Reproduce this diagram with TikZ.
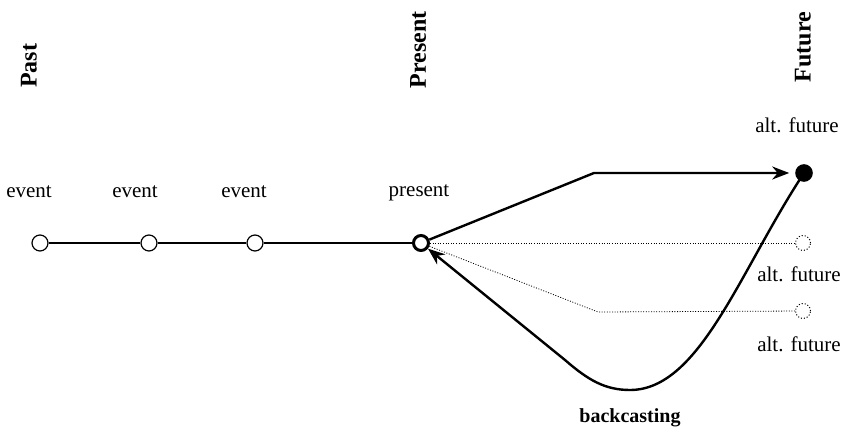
\documentclass[tikz,border=0pt]{standalone}
\usepackage{fontspec}
\setmainfont{Liberation Serif}
\usetikzlibrary{arrows.meta}

\begin{document}
\begin{tikzpicture}[x=0.5pt,y=-0.5pt,
    evt/.style={circle,draw,line width=0.6pt,fill=white,inner sep=0pt,minimum size=8pt},
    pres/.style={circle,draw,line width=1.5pt,fill=white,inner sep=0pt,minimum size=7.5pt},
    fut/.style={circle,draw,line width=0.8pt,fill=black,inner sep=0pt,minimum size=8pt},
    altfut/.style={circle,draw,densely dotted,line width=0.5pt,inner sep=0pt,minimum size=7.5pt},
    lbl/.style={font=\fontsize{10.5}{12}\selectfont},
    era/.style={rotate=90,font=\fontsize{12}{14}\selectfont\bfseries},
    faint/.style={line width=0.4pt,dash pattern=on 0.5pt off 0.8pt},
    bold/.style={line width=1.2pt}]
      \useasboundingbox (0,0) rectangle (844,432);
      \node[era] (past) at (29,66) {Past};
      \node[era] (presenttitle) at (418,50) {Present};
      \node[era] (future) at (803,47) {Future};
      \node[evt] (e1) at (40,243) {};
      \node[evt] (e2) at (149,243) {};
      \node[evt] (e3) at (255,243) {};
      \node[pres] (now) at (421,243) {};
      \node[fut] (f1) at (804,173) {};
      \node[altfut] (f2) at (803,243) {};
      \node[altfut] (f3) at (803,311) {};
      \node[lbl] (l1) at (29,192) {event};
      \node[lbl] (l2) at (135,192) {event};
      \node[lbl] (l3) at (244,192) {event};
      \node[lbl] (lnow) at (419,193) {present};
      \node[lbl] (lf1) at (797,125) {alt. future};
      \node[lbl] (lf2) at (799,274) {alt. future};
      \node[lbl] (lf3) at (799,344) {alt. future};
      \node[lbl,font=\fontsize{10}{12}\selectfont\bfseries] (back) at (630,418) {backcasting};
      \coordinate (k1) at (594,173);
      \coordinate (k2) at (598,312);
      \coordinate (b2) at (630,390);
      \coordinate (b3) at (565,360);
      \draw[line width=1pt] (e1) -- (e2) -- (e3) -- (now);
      \draw[faint] (now) -- (f2);
      \draw[faint] (now) -- (k2) -- (f3);
      \draw[bold,-{Stealth[length=8.5pt,width=6.5pt]},shorten >=3pt] (now) -- (k1) -- (f1);
      \draw[bold,-{Stealth[length=8.5pt,width=6.5pt]}] (f1.center)
        .. controls (740,270) and (700,390) .. (b2)
        .. controls (605,390) and (588,380) .. (b3) -- (now);
    \end{tikzpicture}
\end{document}
